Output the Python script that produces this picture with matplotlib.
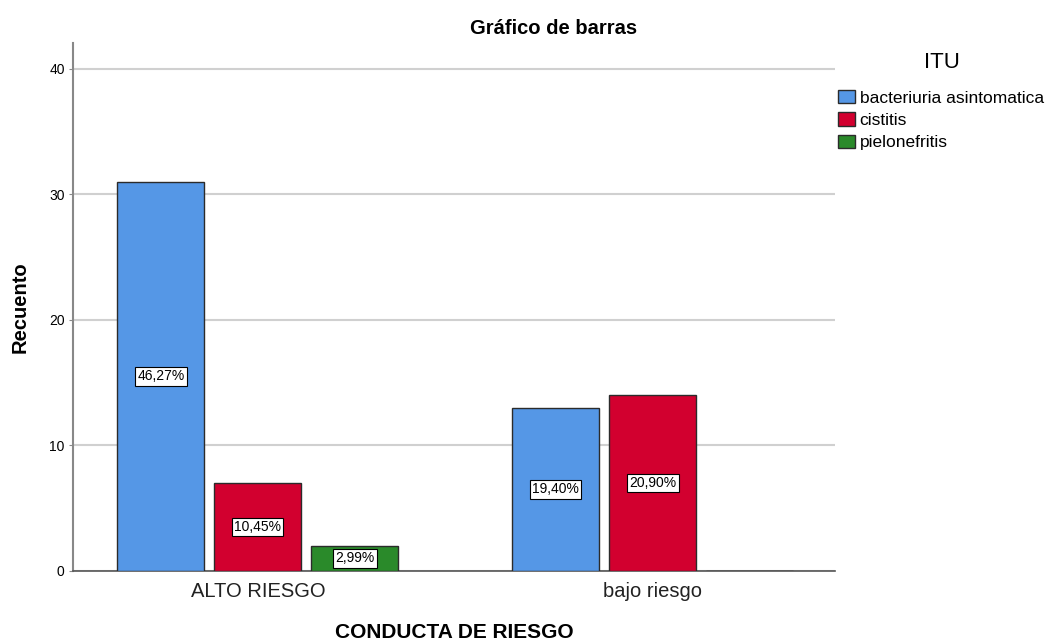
import matplotlib
matplotlib.use("Agg")
import matplotlib.pyplot as plt
import numpy as np

plt.rcParams['font.family'] = ['Liberation Sans', 'DejaVu Sans']

categories = ["ALTO RIESGO", "bajo riesgo"]
series_names = ["bacteriuria asintomatica", "cistitis", "pielonefritis"]
counts = {
    "bacteriuria asintomatica": [31, 13],
    "cistitis": [7, 14],
    "pielonefritis": [2, 0],
}
pct_labels = {
    "bacteriuria asintomatica": ["46,27%", "19,40%"],
    "cistitis": ["10,45%", "20,90%"],
    "pielonefritis": ["2,99%", ""],
}
colors = ["#5597e6", "#d2002f", "#2a8a2a"]
yticks = [0, 10, 20, 30, 40]

fig = plt.figure(figsize=(10.46, 6.43), dpi=100)
ax = fig.add_axes([73/1046, 1-571/643, (835-73)/1046, (571-43)/643])

x = np.arange(len(categories))
width = 0.220
offset = 0.2456
for i, (name, col) in enumerate(zip(series_names, colors)):
    vals = counts[name]
    pos = x + (i - 1) * offset
    ax.bar(pos, vals, width=width, color=col, edgecolor="#2b2b2b",
           linewidth=1.0, label=name, zorder=3)
    for p, v, lab in zip(pos, vals, pct_labels[name]):
        if v > 0 and lab:
            ax.text(p, v / 2, lab, ha="center", va="center", fontsize=10,
                    zorder=5,
                    bbox=dict(boxstyle="square,pad=0.15", facecolor="white",
                              edgecolor="black", linewidth=0.8))

ax.set_xlim(-0.468, 1.461)
ax.set_ylim(0, 42.07)
ax.set_yticks(yticks)
ax.set_yticklabels([str(t) for t in yticks], fontsize=10)
ax.set_xticks(x)
ax.set_xticklabels(categories, fontsize=14.5, color="#222222")
ax.tick_params(axis="x", length=0, pad=8)
ax.tick_params(axis="y", length=3, color="#888888", pad=3)
ax.grid(axis="y", color="#d0d0d0", linewidth=1.5, zorder=0)
ax.set_axisbelow(True)
for s in ["top", "right"]:
    ax.spines[s].set_visible(False)
ax.spines["left"].set_color("#888888")
ax.spines["left"].set_linewidth(1.5)
ax.spines["bottom"].set_color("#555555")
ax.spines["bottom"].set_linewidth(1.2)

ax.set_xlabel("CONDUCTA DE RIESGO", fontsize=15, fontweight="bold", labelpad=16)
ax.set_ylabel("Recuento", fontsize=14.5, fontweight="bold", labelpad=14)
fig.text(554/1046, 1-28/643, "Gráfico de barras", ha="center", va="center",
         fontsize=14.5, fontweight="bold")

fig.text(942/1046, 1-63/643, "ITU", ha="center", va="center", fontsize=16)
leg = ax.legend(loc="upper left", bbox_to_anchor=(838/1046, 1-90/643),
                bbox_transform=fig.transFigure, frameon=False,
                fontsize=12.5, handlelength=1.0,
                handleheight=0.8, handletextpad=0.25, labelspacing=0.38,
                borderpad=0, borderaxespad=0)

fig.savefig("out.png", dpi=100)
